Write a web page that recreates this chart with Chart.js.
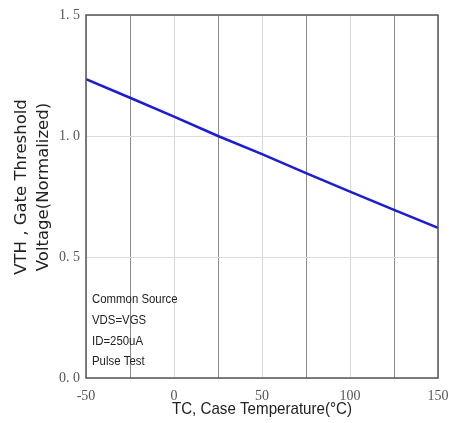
<!DOCTYPE html>
<html>
<head>
<meta charset="utf-8">
<script src="https://cdn.jsdelivr.net/npm/chart.js@4"></script>
<style>
  html, body { margin: 0; padding: 0; background: #fff; }
  #wrap { width: 455px; height: 423px; }
</style>
</head>
<body>
<div id="wrap"><canvas id="vth-chart" width="455" height="423"></canvas></div>
<script>
// temperature (°C) vs normalized gate threshold voltage
var temps = [-50, -25, 0, 25, 50, 75, 100, 125, 150];
var vth = [1.235, 1.158, 1.08, 1.0, 0.925, 0.847, 0.77, 0.695, 0.62];
var xTicks = [-50, 0, 50, 100, 150];
var yTicks = [0, 0.5, 1.0, 1.5];
var notes = ["Common Source", "VDS=VGS", "ID=250uA", "Pulse Test"];

var points = temps.map(function(t, i) { return { x: t, y: vth[i] }; });

// frame + texts that sit at fixed spots in the original figure
var extras = {
  id: 'extras',
  afterDraw: function(chart) {
    var c = chart.ctx, a = chart.chartArea;
    c.save();
    c.strokeStyle = '#555';
    c.lineWidth = 1.5;
    c.strokeRect(a.left, a.top, a.right - a.left, a.bottom - a.top);

    c.fillStyle = '#222';
    c.textBaseline = 'middle';
    c.textAlign = 'left';
    c.save();
    c.translate(a.left + 6, 0);
    c.scale(0.95, 1);
    c.font = '12px "Liberation Sans", sans-serif';
    for (var i = 0; i < notes.length; i++) {
      c.fillText(notes[i], 0, 300 + i * 20.7);
    }
    c.restore();

    // x axis title, condensed
    c.save();
    c.translate(262, 409);
    c.scale(0.89, 1);
    c.font = '17px "Liberation Sans", sans-serif';
    c.textAlign = 'center';
    c.fillText('TC, Case Temperature(\u00B0C)', 0, 0);
    c.restore();

    // y axis title, two lines
    c.rotate(-Math.PI / 2);
    c.textAlign = 'center';
    c.font = '16.5px "DejaVu Sans", sans-serif';
    c.fillText('VTH , Gate Threshold', -187, 22);
    c.fillText('Voltage(Normalized)', -187, 44);
    c.restore();
  }
};

var ctx = document.getElementById('vth-chart').getContext('2d');
var chart = new Chart(ctx, {
  type: 'line',
  data: {
    datasets: [{
      data: points,
      borderColor: '#1c1cd6',
      borderWidth: 2.5,
      pointRadius: 0,
      fill: false,
      tension: 0
    }]
  },
  options: {
    responsive: false,
    animation: false,
    layout: { padding: { top: 15, right: 17, left: 0, bottom: 0 } },
    plugins: { legend: { display: false }, tooltip: { enabled: false } },
    scales: {
      x: {
        type: 'linear',
        min: -50, max: 150,
        afterFit: function(s) { s.height = 45; s.paddingRight = 0; },
        afterBuildTicks: function(s) {
          s.ticks = temps.map(function(v) { return { value: v }; });
        },
        grid: {
          drawTicks: false,
          lineWidth: 1,
          color: function(c) {
            var v = c.tick ? c.tick.value : 0;
            return (v % 50 === 0) ? '#d8d8d8' : '#8a8a8a';
          }
        },
        border: { display: false },
        ticks: {
          padding: 10,
          color: '#555',
          font: { family: '"Liberation Serif", serif', size: 14 },
          callback: function(v) { return xTicks.indexOf(v) >= 0 ? String(v) : ''; }
        }
      },
      y: {
        min: 0, max: 1.5,
        afterFit: function(s) { s.width = 86; },
        afterBuildTicks: function(s) {
          s.ticks = yTicks.map(function(v) { return { value: v }; });
        },
        grid: { drawTicks: false, color: '#dcdcdc', lineWidth: 1 },
        border: { display: false },
        ticks: {
          padding: 6,
          color: '#555',
          font: { family: '"Liberation Serif", serif', size: 14 },
          callback: function(v) { return v.toFixed(1).replace('.', '. '); }
        }
      }
    }
  },
  plugins: [extras]
});
</script>
</body>
</html>
